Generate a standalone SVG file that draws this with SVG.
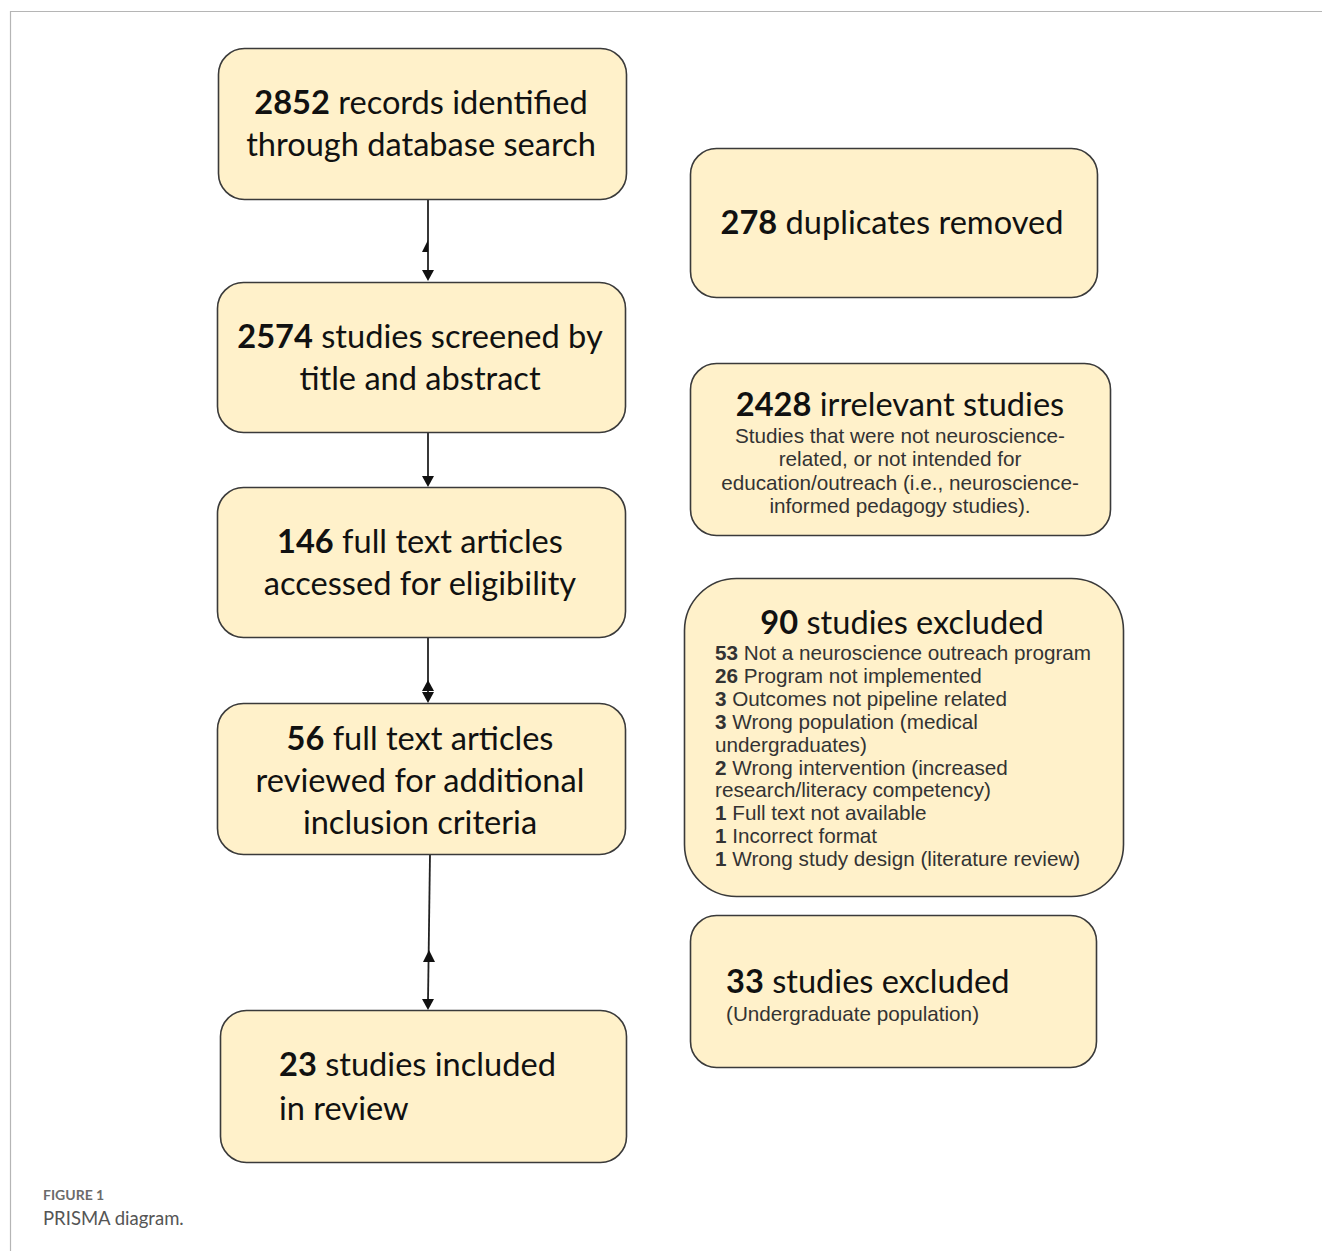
<svg xmlns="http://www.w3.org/2000/svg" width="1322" height="1251" viewBox="0 0 1322 1251">
<defs>
<style>
.box{fill:#FFF1CA;stroke:#3a3a3a;stroke-width:1.6}
.h{font-family:Lato,"Open Sans",sans-serif;font-size:32.6px;fill:#111}
.s{font-family:"Liberation Sans",Arial,sans-serif;font-size:20.7px;fill:#333}
.ln{stroke:#222;stroke-width:1.8;fill:none}
.ah{fill:#111}
</style>
</defs>
<rect width="1322" height="1251" fill="#fff"/>
<path d="M10.5 1251 V11.5 H1322" fill="none" stroke="#b5b5b5" stroke-width="1.2"/>

<g id="connectors">
<line class="ln" x1="428" y1="199" x2="428" y2="272"/>
<path class="ah" d="M422 252 L428 240 L428 252 Z"/>
<path class="ah" d="M422 270 L434 270 L428 281 Z"/>
<line class="ln" x1="428" y1="432" x2="428" y2="478"/>
<path class="ah" d="M422 476 L434 476 L428 487 Z"/>
<line class="ln" x1="428" y1="637" x2="428" y2="694"/>
<path class="ah" d="M422 691 L434 691 L428 680 Z"/>
<path class="ah" d="M422 692 L434 692 L428 703 Z"/>
<line class="ln" x1="430" y1="854" x2="428" y2="1001"/>
<path class="ah" d="M423 962 L435 962 L429 950 Z"/>
<path class="ah" d="M422 999 L434 999 L428 1010 Z"/>
</g>

<g id="n2852">
<rect class="box" x="218.5" y="48.5" width="408" height="151" rx="26"/>
<text class="h" x="421" y="114" text-anchor="middle"><tspan font-weight="bold">2852</tspan> records identified</text>
<text class="h" x="421" y="156" text-anchor="middle">through database search</text>
</g>

<g id="n278">
<rect class="box" x="690.5" y="148.5" width="407" height="149" rx="26"/>
<text class="h" x="892" y="234" text-anchor="middle"><tspan font-weight="bold">278</tspan> duplicates removed</text>
</g>

<g id="n2574">
<rect class="box" x="217.5" y="282.5" width="408" height="150" rx="26"/>
<text class="h" x="420" y="348" text-anchor="middle"><tspan font-weight="bold">2574</tspan> studies screened by</text>
<text class="h" x="420" y="390" text-anchor="middle">title and abstract</text>
</g>

<g id="n2428">
<rect class="box" x="690.5" y="363.5" width="420" height="172" rx="26"/>
<text class="h" x="900" y="416" text-anchor="middle"><tspan font-weight="bold">2428</tspan> irrelevant studies</text>
<text class="s" x="900" y="443" text-anchor="middle">Studies that were not neuroscience-</text>
<text class="s" x="900" y="466" text-anchor="middle">related, or not intended for</text>
<text class="s" x="900" y="490" text-anchor="middle">education/outreach (i.e., neuroscience-</text>
<text class="s" x="900" y="513" text-anchor="middle">informed pedagogy studies).</text>
</g>

<g id="n146">
<rect class="box" x="217.5" y="487.5" width="408" height="150" rx="26"/>
<text class="h" x="420" y="553" text-anchor="middle"><tspan font-weight="bold">146</tspan> full text articles</text>
<text class="h" x="420" y="595" text-anchor="middle">accessed for eligibility</text>
</g>

<g id="n90">
<rect class="box" x="684.5" y="578.5" width="439" height="318" rx="52"/>
<text class="h" x="902" y="634" text-anchor="middle"><tspan font-weight="bold">90</tspan> studies excluded</text>
<text class="s" x="715" y="660"><tspan font-weight="bold">53</tspan> Not a neuroscience outreach program</text>
<text class="s" x="715" y="683"><tspan font-weight="bold">26</tspan> Program not implemented</text>
<text class="s" x="715" y="706"><tspan font-weight="bold">3</tspan> Outcomes not pipeline related</text>
<text class="s" x="715" y="729"><tspan font-weight="bold">3</tspan> Wrong population (medical</text>
<text class="s" x="715" y="752">undergraduates)</text>
<text class="s" x="715" y="775"><tspan font-weight="bold">2</tspan> Wrong intervention (increased</text>
<text class="s" x="715" y="797">research/literacy competency)</text>
<text class="s" x="715" y="820"><tspan font-weight="bold">1</tspan> Full text not available</text>
<text class="s" x="715" y="843"><tspan font-weight="bold">1</tspan> Incorrect format</text>
<text class="s" x="715" y="866"><tspan font-weight="bold">1</tspan> Wrong study design (literature review)</text>
</g>

<g id="n56">
<rect class="box" x="217.5" y="703.5" width="408" height="151" rx="26"/>
<text class="h" x="420" y="750" text-anchor="middle"><tspan font-weight="bold">56</tspan> full text articles</text>
<text class="h" x="420" y="792" text-anchor="middle">reviewed for additional</text>
<text class="h" x="420" y="834" text-anchor="middle">inclusion criteria</text>
</g>

<g id="n33">
<rect class="box" x="690.5" y="915.5" width="406" height="152" rx="26"/>
<text class="h" x="726" y="993"><tspan font-weight="bold">33</tspan> studies excluded</text>
<text class="s" x="726" y="1021">(Undergraduate population)</text>
</g>

<g id="n23">
<rect class="box" x="220.5" y="1010.5" width="406" height="152" rx="26"/>
<text class="h" x="279" y="1076"><tspan font-weight="bold">23</tspan> studies included</text>
<text class="h" x="279" y="1120">in review</text>
</g>

<g id="caption">
<text x="43" y="1200" font-family="Lato,'Open Sans',sans-serif" font-size="14" font-weight="bold" fill="#6b6b6b">FIGURE 1</text>
<text x="43" y="1225" font-family="Lato,'Open Sans',sans-serif" font-size="18.5" fill="#555">PRISMA diagram.</text>
</g>
</svg>
